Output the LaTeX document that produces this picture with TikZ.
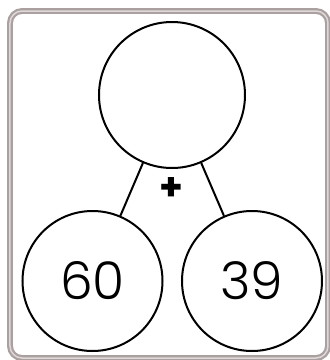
\documentclass[tikz,border=0pt]{standalone}
\usepackage{fontspec}
\setmainfont{Poppins}
\newfontfamily\numfont{Poppins Light}
\definecolor{framegray}{RGB}{170,160,160}
\definecolor{framegap}{RGB}{222,216,216}
\begin{document}
\begin{tikzpicture}[x=1pt,y=-1pt,
    bond/.style={circle, draw=black, line width=2pt, inner sep=0pt},
    link/.style={black, line width=2pt}]
  \useasboundingbox (0,0) rectangle (330,360);
  % frame
  \draw[framegray, line width=2.2pt, double=framegap, double distance=1.5pt, rounded corners=12pt]
    (10,11) rectangle (328,358);
  % whole and parts
  \node[bond, minimum size=146pt] (whole) at (172,95) {};
  \node[bond, minimum size=140pt, font=\numfont\fontsize{52}{52}\selectfont] (partA) at (92.5,281) {60};
  \node[bond, minimum size=140pt, font=\numfont\fontsize{52}{52}\selectfont] (partB) at (252,281) {39};
  \draw[link] (whole) -- (partA);
  \draw[link] (whole) -- (partB);
  \node[font=\fontsize{38}{38}\selectfont\bfseries] (plus) at (171,189) {+};
\end{tikzpicture}
\end{document}
